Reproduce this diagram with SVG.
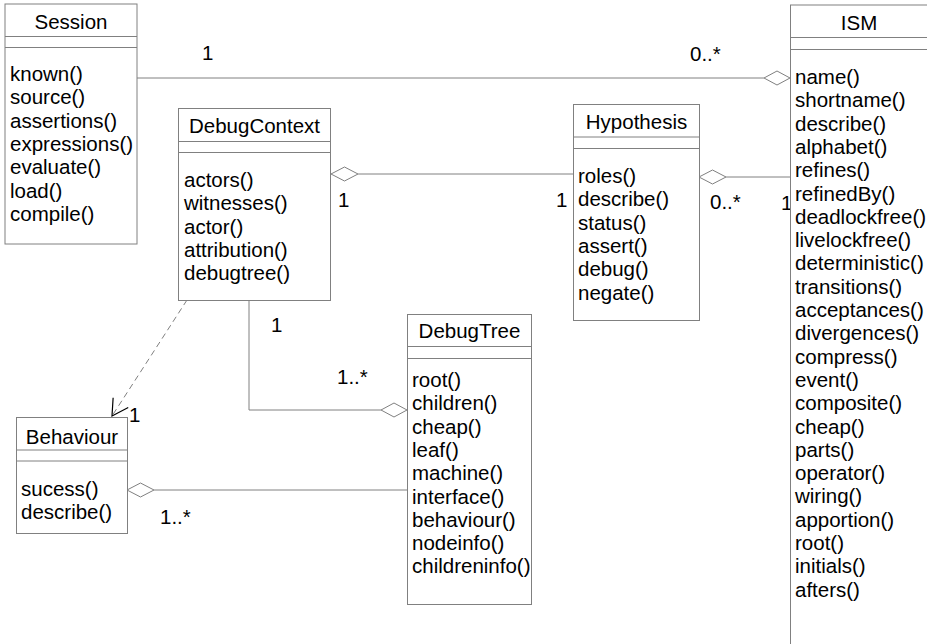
<svg xmlns="http://www.w3.org/2000/svg" width="927" height="644" viewBox="0 0 927 644">
<style>
.box{fill:#fff;stroke:#808080;stroke-width:1}
.sep{stroke:#808080;stroke-width:1}
.t{font-family:"Liberation Sans",Arial,sans-serif;font-size:20.5px;fill:#000}
.c{text-anchor:middle}
.ln{fill:none;stroke:#808080;stroke-width:1}
.dia{fill:#fff;stroke:#808080;stroke-width:1}
.dash{fill:none;stroke:#808080;stroke-width:1;stroke-dasharray:6,4}
</style>
<defs>
<marker id="open" viewBox="-20 -10 22 20" refX="0" refY="0" markerWidth="22" markerHeight="20" markerUnits="userSpaceOnUse" orient="auto">
<path d="M-16,-9 L0,0 L-16,9" fill="none" stroke="#000" stroke-width="1.2"/>
</marker>
</defs>
<rect width="927" height="644" fill="#fff"/>

<g id="connectors">
<line class="ln" x1="137" y1="78" x2="764" y2="78"/>
<polygon class="dia" points="764,78 777,71 790,78 777,85"/>
<line class="ln" x1="358" y1="174" x2="574" y2="174"/>
<polygon class="dia" points="331,174 344.5,167 358,174 344.5,181"/>
<line class="ln" x1="726" y1="177" x2="790" y2="177"/>
<polygon class="dia" points="699,177 712.5,170 726,177 712.5,184"/>
<polyline class="ln" points="249,300 249,410 381,410"/>
<polygon class="dia" points="381,410 394,403 407,410 394,417"/>
<line class="ln" x1="154" y1="490" x2="407" y2="490"/>
<polygon class="dia" points="127,490 140.5,483 154,490 140.5,497"/>
<line class="dash" x1="187" y1="300" x2="112" y2="416" marker-end="url(#open)"/>
<text class="t" x="202" y="60">1</text>
<text class="t" x="690" y="61">0..*</text>
<text class="t" x="338" y="207">1</text>
<text class="t" x="556" y="207">1</text>
<text class="t" x="710" y="209">0..*</text>
<text class="t" x="781" y="210">1</text>
<text class="t" x="271" y="332">1</text>
<text class="t" x="337" y="384">1..*</text>
<text class="t" x="129" y="422">1</text>
<text class="t" x="160" y="524">1..*</text>
</g>

<g id="Session">
<rect class="box" x="5" y="4" width="132" height="240"/>
<line class="sep" x1="5" y1="36.5" x2="137" y2="36.5"/>
<line class="sep" x1="5" y1="47.5" x2="137" y2="47.5"/>
<text class="t c" x="71" y="29">Session</text>
<text class="t" x="10" y="81">known()</text>
<text class="t" x="10" y="104.3">source()</text>
<text class="t" x="10" y="127.6">assertions()</text>
<text class="t" x="10" y="150.9">expressions()</text>
<text class="t" x="10" y="174.2">evaluate()</text>
<text class="t" x="10" y="197.5">load()</text>
<text class="t" x="10" y="220.8">compile()</text>
</g>

<g id="ISM">
<rect class="box" x="790.5" y="5" width="150" height="660"/>
<line class="sep" x1="790" y1="37.5" x2="927" y2="37.5"/>
<line class="sep" x1="790" y1="49.5" x2="927" y2="49.5"/>
<text class="t c" x="859" y="30">ISM</text>
<text class="t" x="795" y="84">name()</text>
<text class="t" x="795" y="107.3">shortname()</text>
<text class="t" x="795" y="130.6">describe()</text>
<text class="t" x="795" y="153.9">alphabet()</text>
<text class="t" x="795" y="177.2">refines()</text>
<text class="t" x="795" y="200.5">refinedBy()</text>
<text class="t" x="795" y="223.8">deadlockfree()</text>
<text class="t" x="795" y="247.1">livelockfree()</text>
<text class="t" x="795" y="270.4">deterministic()</text>
<text class="t" x="795" y="293.7">transitions()</text>
<text class="t" x="795" y="317">acceptances()</text>
<text class="t" x="795" y="340.3">divergences()</text>
<text class="t" x="795" y="363.6">compress()</text>
<text class="t" x="795" y="386.9">event()</text>
<text class="t" x="795" y="410.2">composite()</text>
<text class="t" x="795" y="433.5">cheap()</text>
<text class="t" x="795" y="456.8">parts()</text>
<text class="t" x="795" y="480.1">operator()</text>
<text class="t" x="795" y="503.4">wiring()</text>
<text class="t" x="795" y="526.7">apportion()</text>
<text class="t" x="795" y="550">root()</text>
<text class="t" x="795" y="573.3">initials()</text>
<text class="t" x="795" y="596.6">afters()</text>
</g>

<g id="DebugContext">
<rect class="box" x="178.5" y="108.5" width="152" height="192"/>
<line class="sep" x1="178.5" y1="141.5" x2="330.5" y2="141.5"/>
<line class="sep" x1="178.5" y1="152.5" x2="330.5" y2="152.5"/>
<text class="t c" x="254.5" y="133">DebugContext</text>
<text class="t" x="184" y="187">actors()</text>
<text class="t" x="184" y="210.3">witnesses()</text>
<text class="t" x="184" y="233.6">actor()</text>
<text class="t" x="184" y="256.9">attribution()</text>
<text class="t" x="184" y="280.2">debugtree()</text>
</g>

<g id="Hypothesis">
<rect class="box" x="573.5" y="104.5" width="126" height="216"/>
<line class="sep" x1="573.5" y1="137" x2="699.5" y2="137"/>
<line class="sep" x1="573.5" y1="148.5" x2="699.5" y2="148.5"/>
<text class="t c" x="636.5" y="129">Hypothesis</text>
<text class="t" x="578" y="183">roles()</text>
<text class="t" x="578" y="206.3">describe()</text>
<text class="t" x="578" y="229.6">status()</text>
<text class="t" x="578" y="252.9">assert()</text>
<text class="t" x="578" y="276.2">debug()</text>
<text class="t" x="578" y="299.5">negate()</text>
</g>

<g id="DebugTree">
<rect class="box" x="407.5" y="314.5" width="124" height="290"/>
<line class="sep" x1="407.5" y1="346.5" x2="531.5" y2="346.5"/>
<line class="sep" x1="407.5" y1="358.5" x2="531.5" y2="358.5"/>
<text class="t c" x="469.5" y="338">DebugTree</text>
<text class="t" x="412" y="387">root()</text>
<text class="t" x="412" y="410.3">children()</text>
<text class="t" x="412" y="433.6">cheap()</text>
<text class="t" x="412" y="456.9">leaf()</text>
<text class="t" x="412" y="480.2">machine()</text>
<text class="t" x="412" y="503.5">interface()</text>
<text class="t" x="412" y="526.8">behaviour()</text>
<text class="t" x="412" y="550.1">nodeinfo()</text>
<text class="t" x="412" y="573.4">childreninfo()</text>
</g>

<g id="Behaviour">
<rect class="box" x="16.5" y="417.5" width="111" height="116"/>
<line class="sep" x1="16.5" y1="450" x2="127.5" y2="450"/>
<line class="sep" x1="16.5" y1="461" x2="127.5" y2="461"/>
<text class="t c" x="72" y="444">Behaviour</text>
<text class="t" x="21" y="496">sucess()</text>
<text class="t" x="21" y="519.3">describe()</text>
</g>
</svg>
